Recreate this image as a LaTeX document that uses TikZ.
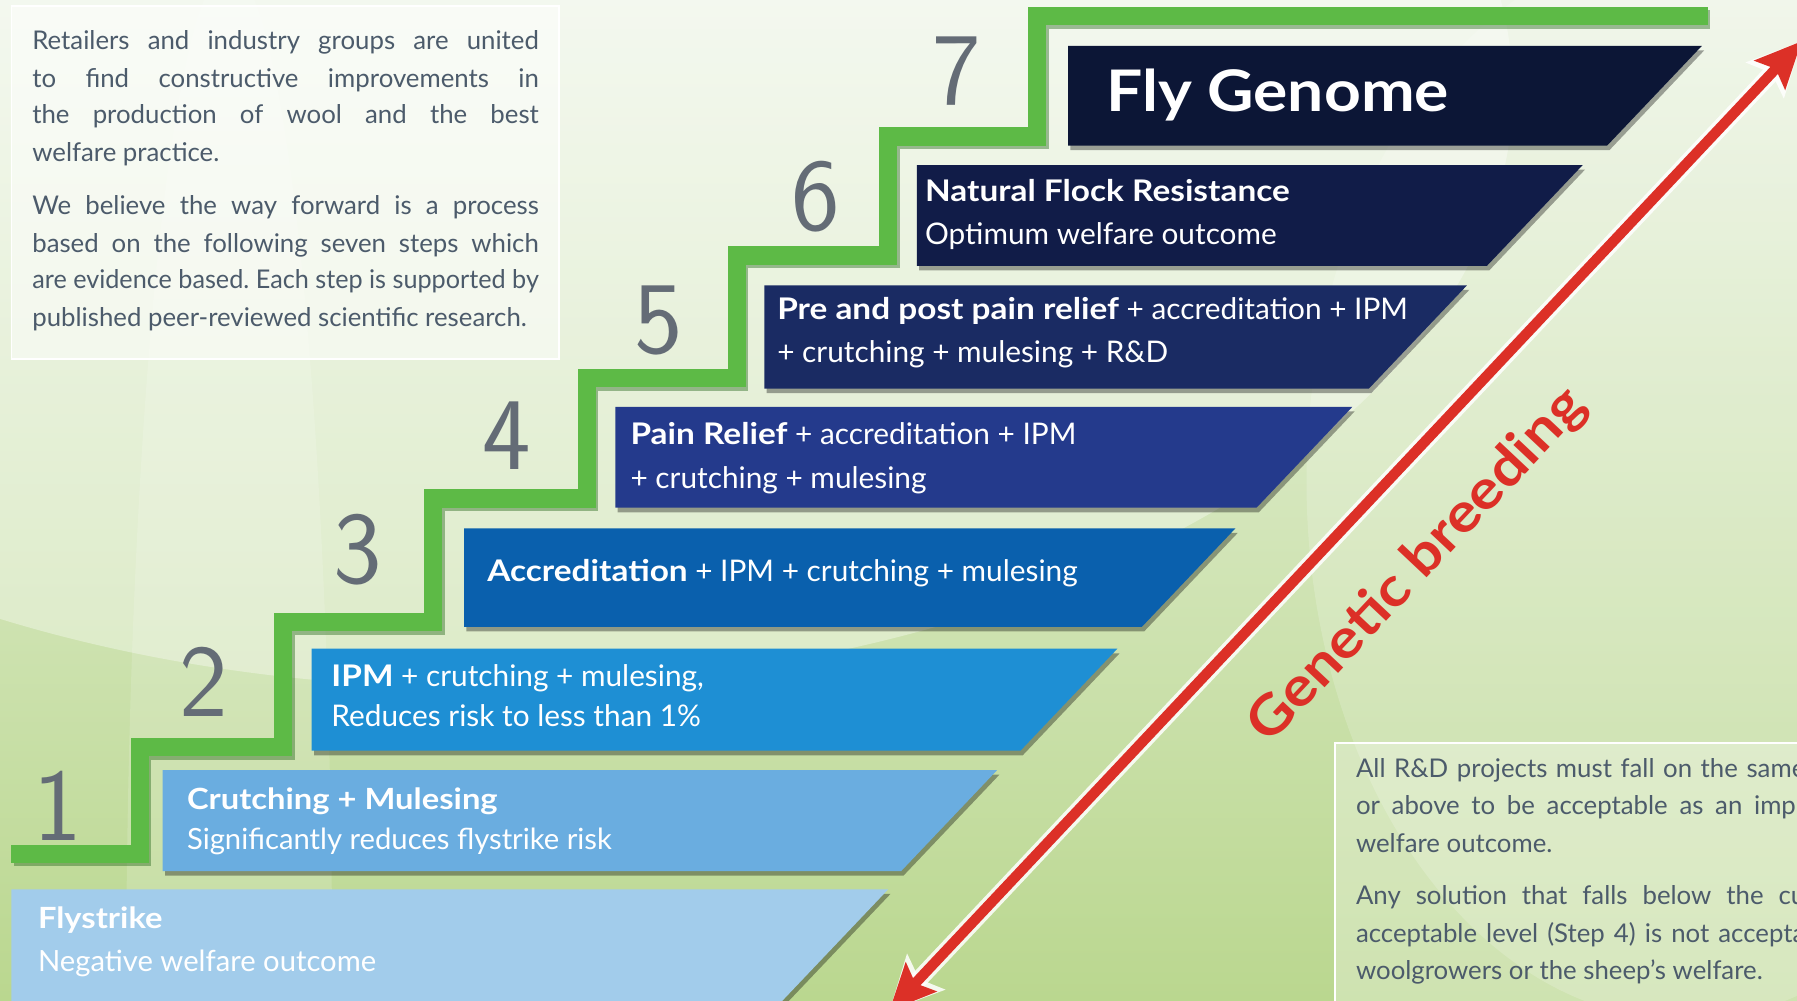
\documentclass[tikz,border=0pt]{standalone}
\usepackage{fontspec}
\setmainfont{Lato}[BoldFeatures={FakeStretch=1.12}]
\usetikzlibrary{arrows.meta}
\definecolor{bgtop}{HTML}{EEF5E7}
\definecolor{bgbot}{HTML}{BAD78F}
\definecolor{stairgreen}{HTML}{5DBA46}
\definecolor{stairdark}{HTML}{2F6E25}
\definecolor{bandA}{HTML}{A2CCEB}
\definecolor{bandB}{HTML}{6AADE0}
\definecolor{bandC}{HTML}{1E8FD4}
\definecolor{bandD}{HTML}{0A60AD}
\definecolor{bandE}{HTML}{243A8C}
\definecolor{bandF}{HTML}{1A2B63}
\definecolor{bandG}{HTML}{111C48}
\definecolor{bandH}{HTML}{0C1636}
\definecolor{bodytext}{HTML}{4C5B6B}
\definecolor{numgray}{HTML}{646C76}
\definecolor{arrowred}{HTML}{DC3027}
\newcommand\jline[2]{\setbox0\hbox{#2}\ifdim\wd0>#1\relax\resizebox{#1}{\height}{#2}\else\makebox[#1][s]{#2}\fi}
\frenchspacing
\begin{document}
\begin{tikzpicture}[x=1pt,y=-1pt,
  bandtxt/.style={anchor=base west, inner sep=0pt, text=white, font=\fontsize{26}{30}\selectfont},
  bodyline/.style={anchor=base west, inner sep=0pt, text=bodytext, font=\fontsize{22.5}{26}\selectfont},
  stepnum/.style={inner sep=0pt, text=numgray, font=\sffamily\fontsize{90}{90}\selectfont},
  infobox/.style={fill=white, fill opacity=0.5, draw=white, line width=1.5pt},
  bandshadow/.style={fill=black, opacity=0.35},
  stairline/.style={line width=16pt, line join=miter},
  gbfont/.style={rotate=46.75, inner sep=0pt, font=\bfseries\fontsize{47.5}{48}\selectfont}
]
\useasboundingbox (0,0) rectangle (1568,873);
\clip (0,0) rectangle (1568,873);
% background
\shade[top color=bgtop, bottom color=bgbot] (0,0) rectangle (1568,873);
\fill[white, opacity=0.35] (420,80) ellipse [x radius=900, y radius=520];
\fill[white, opacity=0.18] (1470,420) ellipse [x radius=330, y radius=470];
\fill[white, opacity=0.15] (200,873) ellipse [x radius=90, y radius=900];
% info boxes
\draw[infobox] (10,5) rectangle (488,313);
\draw[infobox, fill opacity=0.3] (1165,648) rectangle (1600,900);
% staircase
\draw[stairline, stairdark, opacity=0.45, xshift=2pt, yshift=-3pt]
  (10,745) -- (122,745) -- (122,652) -- (247,652) -- (247,543) -- (378,543) -- (378,435) -- (512,435) -- (512,330) -- (643,330) -- (643,223) -- (775,223) -- (775,119) -- (905,119) -- (905,14) -- (1490,14);
\draw[stairline, stairgreen]
  (10,745) -- (122,745) -- (122,652) -- (247,652) -- (247,543) -- (378,543) -- (378,435) -- (512,435) -- (512,330) -- (643,330) -- (643,223) -- (775,223) -- (775,119) -- (905,119) -- (905,14) -- (1490,14);
% bands
\foreach \l/\t/\r/\b/\c in {10/776/775/890/bandA, 142/672/870/760/bandB, 272/566/975/655/bandC, 405/461/1078/547/bandD, 537/355/1180/443/bandE, 667/249/1280/339/bandF, 800/144/1381/232/bandG, 932/40/1485/127/bandH}{
  \fill[bandshadow, xshift=2pt, yshift=-4pt] (\l,\t) -- (\r,\t) -- ({\r-0.95*(\b-\t)},\b) -- (\l,\b) -- cycle;
  \fill[\c] (\l,\t) -- (\r,\t) -- ({\r-0.95*(\b-\t)},\b) -- (\l,\b) -- cycle;
}
% band texts
\node[bandtxt, font=\fontsize{25.5}{30}\selectfont] (t1a) at (33,810) {\textbf{Flystrike}};
\node[bandtxt, font=\fontsize{25.5}{30}\selectfont] (t1b) at (33,848) {Negative welfare outcome};
\node[bandtxt, font=\fontsize{25.5}{30}\selectfont] (t2a) at (163,706) {\textbf{Crutching + Mulesing}};
\node[bandtxt, font=\fontsize{25.5}{30}\selectfont] (t2b) at (163,741) {Significantly reduces flystrike risk};
\node[bandtxt] (t3a) at (289,599) {\textbf{IPM} + crutching + mulesing,};
\node[bandtxt] (t3b) at (289,634) {Reduces risk to less than 1\%};
\node[bandtxt] (t4a) at (425,507) {\textbf{Accreditation} + IPM + crutching + mulesing};
\node[bandtxt] (t5a) at (550,388) {\textbf{Pain Relief} + accreditation + IPM};
\node[bandtxt] (t5b) at (550,426) {+ crutching + mulesing};
\node[bandtxt] (t6a) at (678,279) {\textbf{Pre and post pain relief} + accreditation + IPM};
\node[bandtxt] (t6b) at (678,316) {+ crutching + mulesing + R\&D};
\node[bandtxt] (t7a) at (807,176) {\textbf{Natural Flock Resistance}};
\node[bandtxt] (t7b) at (807,213) {Optimum welfare outcome};
\node[bandtxt, font=\bfseries\fontsize{50}{56}\selectfont] (t8a) at (965,97) {Fly Genome};
% step numbers
\node[stepnum] (n1) at (50,703) {1};
\node[stepnum] (n2) at (178,595) {2};
\node[stepnum] (n3) at (312,480) {3};
\node[stepnum] (n4) at (442,380) {4};
\node[stepnum] (n5) at (575,280) {5};
\node[stepnum] (n6) at (712,172) {6};
\node[stepnum] (n7) at (835,62) {7};
% genetic breeding arrow
\coordinate (arrS) at (776,882);
\coordinate (arrE) at (1572,36);
\draw[white, opacity=0.85, line width=15pt, {Stealth[length=46pt,width=44pt,inset=8pt]}-{Stealth[length=46pt,width=44pt,inset=8pt]}] (arrS) -- (arrE);
\draw[arrowred, line width=9pt, {Stealth[length=40pt,width=36pt,inset=7pt]}-{Stealth[length=40pt,width=36pt,inset=7pt]}] (arrS) -- (arrE);
\node[gbfont, text=arrowred] (gb) at (1237,494) {Genetic breeding};
% left text
\node[bodyline] (l1) at (28,43) {\jline{442pt}{Retailers and industry groups are united}};
\node[bodyline] (l2) at (28,76) {\jline{442pt}{to find constructive improvements in}};
\node[bodyline] (l3) at (28,108) {\jline{442pt}{the production of wool and the best}};
\node[bodyline] (l4) at (28,141) {welfare practice.};
\node[bodyline] (l5) at (28,187) {\jline{442pt}{We believe the way forward is a process}};
\node[bodyline] (l6) at (28,220) {\jline{442pt}{based on the following seven steps which}};
\node[bodyline] (l7) at (28,252) {\jline{442pt}{are evidence based. Each step is supported by}};
\node[bodyline] (l8) at (28,285) {published peer-reviewed scientific research.};
% right text
\node[bodyline] (r1) at (1183,678) {\jline{392pt}{All R\&D projects must fall on the same}};
\node[bodyline] (r2) at (1183,711) {\jline{392pt}{or above to be acceptable as an impr}};
\node[bodyline] (r3) at (1183,744) {welfare outcome.};
\node[bodyline] (r4) at (1183,789) {\jline{392pt}{Any solution that falls below the cu}};
\node[bodyline] (r5) at (1183,822) {\jline{392pt}{acceptable level (Step 4) is not accepta}};
\node[bodyline] (r6) at (1183,855) {woolgrowers or the sheep’s welfare.};
\end{tikzpicture}
\end{document}
